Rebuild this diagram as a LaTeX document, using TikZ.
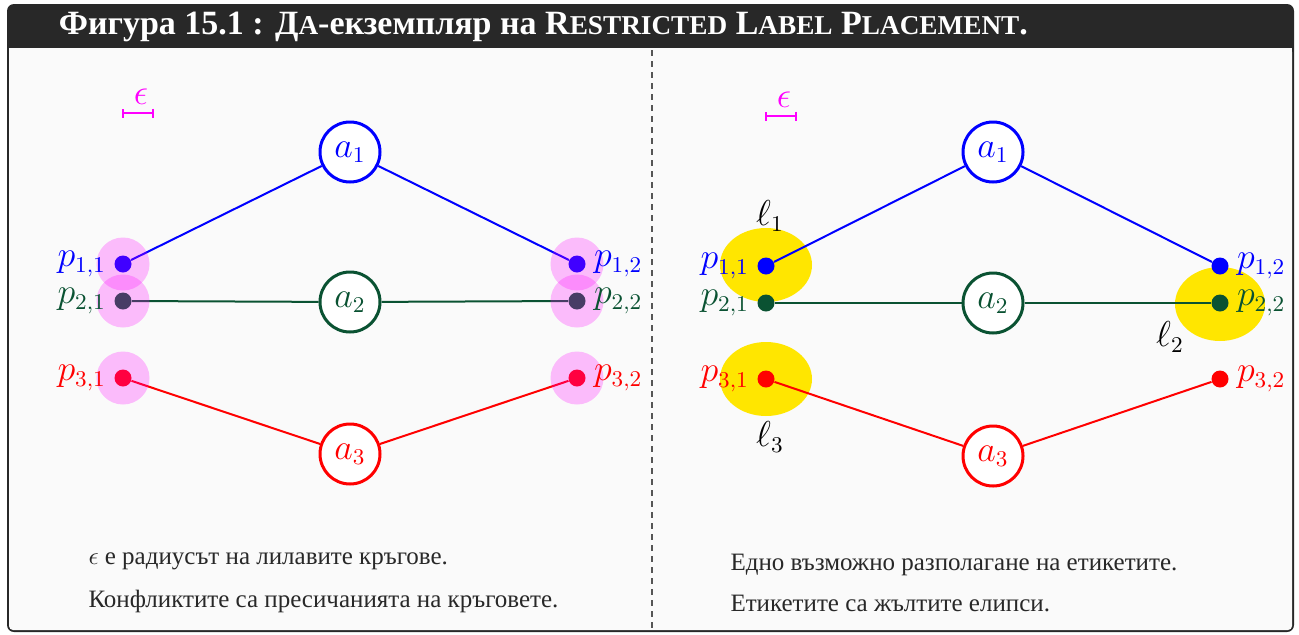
\documentclass[tikz,border=0pt]{standalone}
\usepackage{fontspec}
\setmainfont{Liberation Serif}
\usetikzlibrary{arrows.meta,positioning}
\definecolor{frameink}{HTML}{282828}
\definecolor{panelbg}{HTML}{FAFAFA}
\definecolor{vblue}{HTML}{0000FF}
\definecolor{vgreen}{HTML}{0A5232}
\definecolor{vred}{HTML}{FF0000}
\definecolor{epsmag}{HTML}{FF00FF}
\definecolor{lblyellow}{HTML}{FFE600}
\definecolor{sepgray}{HTML}{555555}
\newcommand\fakesc[2]{#1{\fontsize{10.9pt}{12pt}\selectfont #2}}

\begin{document}
\begin{tikzpicture}[x=0.4pt,y=-0.4pt,
  vert/.style={circle,line width=1.2pt,minimum size=24pt,inner sep=0pt,
               fill=white,font=\fontsize{13.4pt}{15pt}\selectfont},
  dot/.style={circle,minimum size=6.8pt,inner sep=0pt},
  edge/.style={line width=0.8pt},
  plabel/.style={inner sep=1pt,font=\fontsize{13.4pt}{15pt}\selectfont},
  conflict/.style={fill=epsmag,fill opacity=0.25},
  lblarea/.style={fill=lblyellow},
  note/.style={anchor=west,inner sep=0pt,font=\normalsize,text=frameink},
  epsbar/.style={epsmag,line width=0.8pt,{Bar[width=3.6pt]}-{Bar[width=3.6pt]}},
  node distance=2pt
]
\useasboundingbox (0,0) rectangle (1299,634);
% frame and header
\fill[frameink,rounded corners=2.8pt] (7,4) rectangle (1294,632);
\fill[panelbg,rounded corners=1.6pt] (9,48) rectangle (1292,630);
\fill[panelbg] (9,48) rectangle (1292,60);
\node[anchor=west,text=white,font=\bfseries\fontsize{13.6pt}{15pt}\selectfont] (title) at (50,27)
  {Фигура 15.1 : \fakesc{Д}{А}-екземпляр на \fakesc{R}{ESTRICTED} \fakesc{L}{ABEL} \fakesc{P}{LACEMENT}.};
\coordinate (sepA) at (652,50);
\coordinate (sepB) at (652,630);
\draw[sepgray,line width=0.5pt,dash pattern=on 2.4pt off 2pt] (sepA) -- (sepB);

% ---- left: conflicts ----
\coordinate (leA) at (122,113);
\coordinate (leB) at (154,113);
\draw[epsbar] (leA) -- (leB);
\node[text=epsmag,font=\Large] (leps) at (141,97) {$\epsilon$};

\node[vert,draw=vblue,text=vblue] (la1) at (350,152) {$a_1$};
\node[vert,draw=vgreen,text=vgreen] (la2) at (350,302) {$a_2$};
\node[vert,draw=vred,text=vred] (la3) at (350,454) {$a_3$};
\node[dot,fill=vblue] (lp11) at (123,264) {};
\node[dot,fill=vgreen] (lp21) at (123,301) {};
\node[dot,fill=vred] (lp31) at (123,378) {};
\node[dot,fill=vblue] (lp12) at (577,264) {};
\node[dot,fill=vgreen] (lp22) at (577,301) {};
\node[dot,fill=vred] (lp32) at (577,378) {};
\draw[edge,vblue] (lp11) -- (la1) -- (lp12);
\draw[edge,vgreen] (lp21) -- (la2) -- (lp22);
\draw[edge,vred] (lp31) -- (la3) -- (lp32);
\fill[conflict] (lp11) circle (10.6pt);
\fill[conflict] (lp21) circle (10.6pt);
\fill[conflict] (lp31) circle (10.6pt);
\fill[conflict] (lp12) circle (10.6pt);
\fill[conflict] (lp22) circle (10.6pt);
\fill[conflict] (lp32) circle (10.6pt);
\node[plabel,text=vblue,left=of lp11] (ll11) {$p_{1,1}$};
\node[plabel,text=vgreen,left=of lp21] (ll21) {$p_{2,1}$};
\node[plabel,text=vred,left=of lp31] (ll31) {$p_{3,1}$};
\node[plabel,text=vblue,right=of lp12] (ll12) {$p_{1,2}$};
\node[plabel,text=vgreen,right=of lp22] (ll22) {$p_{2,2}$};
\node[plabel,text=vred,right=of lp32] (ll32) {$p_{3,2}$};
\node[note] (lnote1) at (88,561) {$\epsilon$ е радиусът на лилавите кръгове.};
\node[note] (lnote2) at (88,601) {Конфликтите са пресичанията на кръговете.};

% ---- right: placement ----
\coordinate (reA) at (765,116);
\coordinate (reB) at (797,116);
\draw[epsbar] (reA) -- (reB);
\node[text=epsmag,font=\Large] (reps) at (784,100) {$\epsilon$};

\fill[lblarea] (766,265) ellipse (18.4pt and 14.8pt);
\fill[lblarea] (766,379) ellipse (18.4pt and 14.8pt);
\fill[lblarea] (1220,304) ellipse (18pt and 14.8pt);

\node[vert,draw=vblue,text=vblue] (ra1) at (993,152) {$a_1$};
\node[vert,draw=vgreen,text=vgreen] (ra2) at (993,303) {$a_2$};
\node[vert,draw=vred,text=vred] (ra3) at (993,456) {$a_3$};
\node[dot,fill=vblue] (rp11) at (766,266) {};
\node[dot,fill=vgreen] (rp21) at (766,303) {};
\node[dot,fill=vred] (rp31) at (766,379) {};
\node[dot,fill=vblue] (rp12) at (1220,266) {};
\node[dot,fill=vgreen] (rp22) at (1220,303) {};
\node[dot,fill=vred] (rp32) at (1220,379) {};
\draw[edge,vblue] (rp11) -- (ra1) -- (rp12);
\draw[edge,vgreen] (rp21) -- (ra2) -- (rp22);
\draw[edge,vred] (rp31) -- (ra3) -- (rp32);
\node[plabel,text=vblue,left=of rp11] (rl11) {$p_{1,1}$};
\node[plabel,text=vgreen,left=of rp21] (rl21) {$p_{2,1}$};
\node[plabel,text=vred,left=of rp31] (rl31) {$p_{3,1}$};
\node[plabel,text=vblue,right=of rp12] (rl12) {$p_{1,2}$};
\node[plabel,text=vgreen,right=of rp22] (rl22) {$p_{2,2}$};
\node[plabel,text=vred,right=of rp32] (rl32) {$p_{3,2}$};
\node[plabel] (ell1) at (770,216) {$\ell_1$};
\node[plabel] (ell2) at (1170,337) {$\ell_2$};
\node[plabel] (ell3) at (770,437) {$\ell_3$};
\node[note] (rnote1) at (730,565) {Едно възможно разполагане на етикетите.};
\node[note] (rnote2) at (730,603) {Етикетите са жълтите елипси.};
\end{tikzpicture}
\end{document}
